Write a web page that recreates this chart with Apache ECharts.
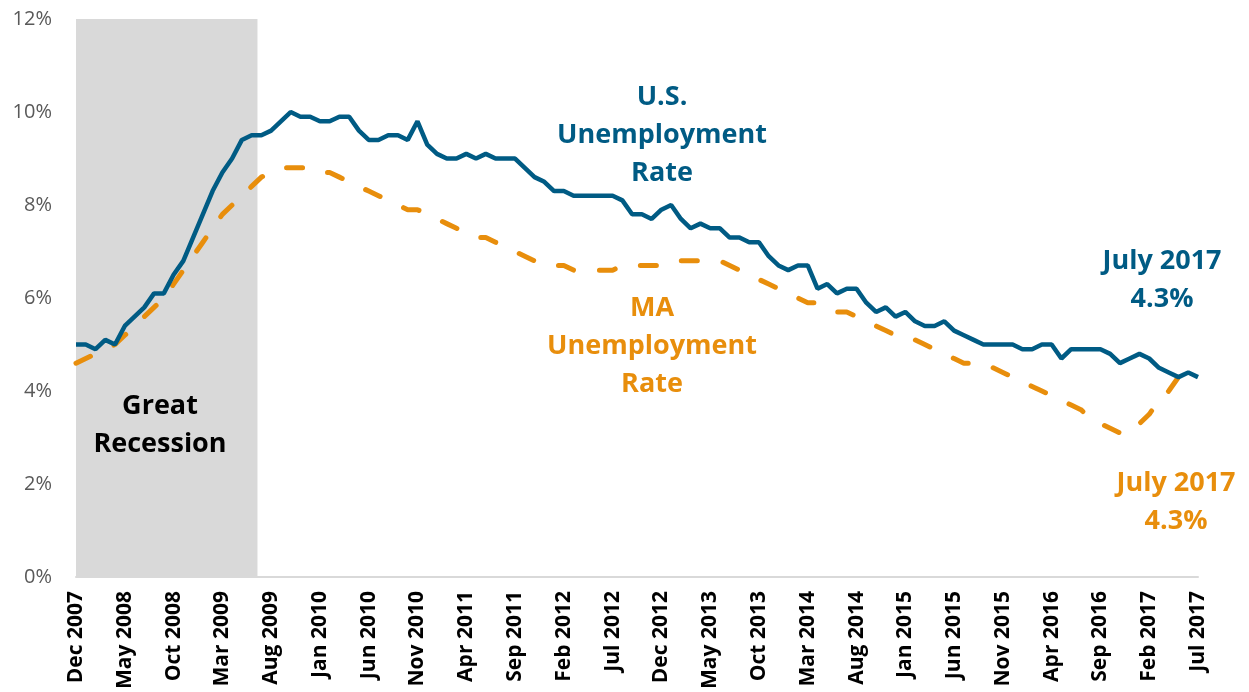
<!DOCTYPE html>
<html>
<head>
    <meta charset="utf-8">
    <title>Unemployment Rate</title>
    <script src="https://cdn.jsdelivr.net/npm/echarts@6/dist/echarts.min.js"></script>
</head>
<body style="margin:0;background:#fff;">
    <div id="main" style="width:1249px;height:692px;"></div>
    <script type="text/javascript">
        // month labels, Dec 2007 .. Jul 2017 (only every 5th is shown on the axis)
        var monthNames = ['Jan', 'Feb', 'Mar', 'Apr', 'May', 'Jun', 'Jul', 'Aug', 'Sep', 'Oct', 'Nov', 'Dec'];
        var months = [];
        for (var i = 0; i < 116; i++) {
            var m = (11 + i) % 12;
            var y = 2007 + Math.floor((11 + i) / 12);
            months.push(monthNames[m] + ' ' + y);
        }

        var usRate = [
            5.0,
            5.0, 4.9, 5.1, 5.0, 5.4, 5.6, 5.8, 6.1, 6.1, 6.5, 6.8, 7.3,
            7.8, 8.3, 8.7, 9.0, 9.4, 9.5, 9.5, 9.6, 9.8, 10.0, 9.9, 9.9,
            9.8, 9.8, 9.9, 9.9, 9.6, 9.4, 9.4, 9.5, 9.5, 9.4, 9.8, 9.3,
            9.1, 9.0, 9.0, 9.1, 9.0, 9.1, 9.0, 9.0, 9.0, 8.8, 8.6, 8.5,
            8.3, 8.3, 8.2, 8.2, 8.2, 8.2, 8.2, 8.1, 7.8, 7.8, 7.7, 7.9,
            8.0, 7.7, 7.5, 7.6, 7.5, 7.5, 7.3, 7.3, 7.2, 7.2, 6.9, 6.7,
            6.6, 6.7, 6.7, 6.2, 6.3, 6.1, 6.2, 6.2, 5.9, 5.7, 5.8, 5.6,
            5.7, 5.5, 5.4, 5.4, 5.5, 5.3, 5.2, 5.1, 5.0, 5.0, 5.0, 5.0,
            4.9, 4.9, 5.0, 5.0, 4.7, 4.9, 4.9, 4.9, 4.9, 4.8, 4.6, 4.7,
            4.8, 4.7, 4.5, 4.4, 4.3, 4.4, 4.3
        ];

        var maRate = [
            4.6,
            4.7, 4.8, 4.9, 5.0, 5.2, 5.4, 5.6, 5.8, 6.0, 6.3, 6.6, 6.9,
            7.2, 7.5, 7.8, 8.0, 8.2, 8.4, 8.6, 8.7, 8.8, 8.8, 8.8, 8.8,
            8.7, 8.7, 8.6, 8.5, 8.4, 8.3, 8.2, 8.1, 8.0, 7.9, 7.9, 7.8,
            7.7, 7.6, 7.5, 7.4, 7.3, 7.3, 7.2, 7.1, 7.0, 6.9, 6.8, 6.7,
            6.7, 6.7, 6.6, 6.6, 6.6, 6.6, 6.6, 6.7, 6.7, 6.7, 6.7, 6.7,
            6.8, 6.8, 6.8, 6.8, 6.8, 6.8, 6.7, 6.6, 6.5, 6.4, 6.3, 6.2,
            6.1, 6.0, 5.9, 5.9, 5.8, 5.7, 5.7, 5.6, 5.5, 5.4, 5.3, 5.2,
            5.1, 5.1, 5.0, 4.9, 4.8, 4.7, 4.6, 4.6, 4.5, 4.5, 4.4, 4.3,
            4.2, 4.1, 4.0, 3.9, 3.8, 3.7, 3.6, 3.4, 3.3, 3.2, 3.1, 3.1,
            3.3, 3.5, 3.8, 4.0, 4.3, 4.3, 4.3
        ];

        // Great Recession: Dec 2007 .. Jun 2009 (index span on the month axis)
        var recession = [0, 18.6];

        var blue = '#005b84';
        var orange = '#e88e0c';
        var noteFont = 'bold 27px "Open Sans"';

        function pairs(arr) {
            return arr.map(function (v, i) { return [i, v]; });
        }

        function note(x, y, text, color) {
            return {type: 'text', x: x, y: y, z: 10, style: {text: text, align: 'center', verticalAlign: 'middle', fill: color, font: noteFont, lineHeight: 38}};
        }

        var myChart = echarts.init(document.getElementById('main'));

        var option = {
            animation: false,
            grid: {left: 76, right: 51, top: 19, bottom: 113},
            xAxis: {
                type: 'value',
                min: 0,
                max: 115,
                interval: 5,
                splitLine: {show: false},
                axisTick: {show: false},
                axisLine: {show: true, lineStyle: {color: '#d9d9d9', width: 2}},
                axisLabel: {
                    rotate: 90,
                    margin: 14,
                    color: '#000',
                    fontFamily: 'Open Sans',
                    fontWeight: 'bold',
                    fontSize: 21,
                    formatter: function (v) { return months[v]; }
                }
            },
            yAxis: {
                type: 'value',
                min: 0,
                max: 12,
                interval: 2,
                splitLine: {show: false},
                axisLine: {show: false},
                axisTick: {show: false},
                axisLabel: {
                    margin: 24,
                    color: '#595959',
                    fontFamily: 'Open Sans',
                    fontSize: 20,
                    formatter: '{value}%'
                }
            },
            series: [
                {
                    name: 'MA Unemployment Rate',
                    type: 'line',
                    data: pairs(maRate),
                    showSymbol: false,
                    z: 3,
                    lineStyle: {color: orange, width: 5, type: [16, 26], cap: 'round'},
                    markArea: {
                        silent: true,
                        itemStyle: {color: '#d9d9d9'},
                        data: [[{xAxis: recession[0]}, {xAxis: recession[1]}]]
                    }
                },
                {
                    name: 'U.S. Unemployment Rate',
                    type: 'line',
                    data: pairs(usRate),
                    showSymbol: false,
                    z: 4,
                    lineStyle: {color: blue, width: 4.5}
                }
            ],
            graphic: [
                note(160, 425, 'Great\nRecession', '#000'),
                note(662, 135, 'U.S.\nUnemployment\nRate', blue),
                note(652, 346, 'MA\nUnemployment\nRate', orange),
                note(1162, 280, 'July 2017\n4.3%', blue),
                note(1176, 502, 'July 2017\n4.3%', orange)
            ]
        };

        myChart.setOption(option);
    </script>
</body>
</html>
